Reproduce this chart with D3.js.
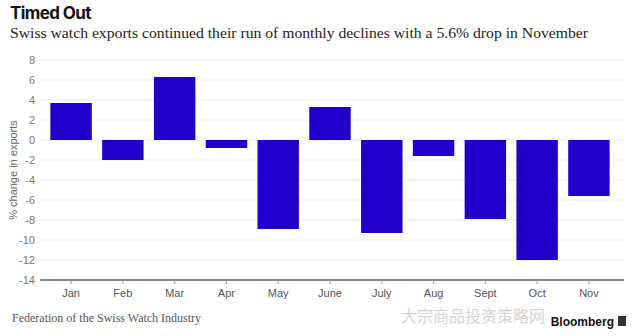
<!DOCTYPE html>
<html>
<head>
<meta charset="utf-8">
<script src="https://cdnjs.cloudflare.com/ajax/libs/d3/7.8.5/d3.min.js"></script>
<style>
  body { margin: 0; background: #fff; }
  svg { display: block; }
</style>
</head>
<body>
<div id="chart"></div>
<script>
// monthly % change in Swiss watch exports
const months = ["Jan", "Feb", "Mar", "Apr", "May", "June", "July", "Aug", "Sept", "Oct", "Nov"];
const changes = [3.7, -2.0, 6.3, -0.8, -8.9, 3.3, -9.3, -1.6, -7.9, -12.0, -5.6];
const yTicks = [8, 6, 4, 2, 0, -2, -4, -6, -8, -10, -12, -14];

const W = 640, H = 336;
const margin = {top: 60, right: 20, bottom: 56, left: 40};

const svg = d3.select("#chart").append("svg")
    .attr("width", W)
    .attr("height", H);

const x = d3.scaleBand()
    .domain(months)
    .range([margin.left, W - margin.right])
    .paddingInner(0.2)
    .paddingOuter(0.2);

const y = d3.scaleLinear()
    .domain([-14, 8])
    .range([H - margin.bottom, margin.top]);

// gridlines
svg.append("g")
    .selectAll("line")
    .data(yTicks.filter(d => d !== -14))
    .join("line")
    .attr("x1", margin.left)
    .attr("x2", W - margin.right + 4)
    .attr("y1", d => y(d))
    .attr("y2", d => y(d))
    .attr("stroke", "#ececec")
    .attr("stroke-width", 1);

// y tick labels
svg.append("g")
    .selectAll("text")
    .data(yTicks)
    .join("text")
    .attr("x", margin.left - 5)
    .attr("y", d => y(d))
    .attr("dy", "0.35em")
    .attr("text-anchor", "end")
    .attr("font-family", "Liberation Sans, Arial, sans-serif")
    .attr("font-size", 11)
    .attr("fill", "#777")
    .text(d => d);

// bars
svg.append("g")
    .selectAll("rect")
    .data(months)
    .join("rect")
    .attr("x", d => x(d))
    .attr("width", x.bandwidth())
    .attr("y", (d, i) => y(Math.max(0, changes[i])))
    .attr("height", (d, i) => Math.abs(y(changes[i]) - y(0)))
    .attr("fill", "#2200cc");

// x axis
const xAxis = svg.append("g")
    .attr("transform", "translate(0," + y(-14) + ")")
    .call(d3.axisBottom(x).tickSize(4).tickSizeOuter(0));
xAxis.select(".domain")
    .attr("d", "M" + margin.left + ",0H" + (W - margin.right + 4))
    .attr("stroke", "#888")
    .attr("stroke-width", 2);
xAxis.selectAll(".tick line").attr("stroke", "#999");
xAxis.selectAll(".tick text")
    .attr("y", 9)
    .attr("font-family", "Liberation Sans, Arial, sans-serif")
    .attr("font-size", 11)
    .attr("fill", "#555");

// y axis label
svg.append("text")
    .attr("transform", "translate(17," + y(-3) + ") rotate(-90)")
    .attr("text-anchor", "middle")
    .attr("font-family", "Liberation Sans, Arial, sans-serif")
    .attr("font-size", 11)
    .attr("fill", "#666")
    .text("% change in exports");

// title and subtitle
svg.append("text")
    .attr("x", 10)
    .attr("y", 19)
    .attr("font-family", "Inter, Roboto, sans-serif")
    .attr("font-weight", "bold")
    .attr("font-size", 17)
    .attr("letter-spacing", "-0.6")
    .attr("fill", "#111")
    .text("Timed Out");

svg.append("text")
    .attr("x", 10)
    .attr("y", 38)
    .attr("font-family", "Liberation Serif, serif")
    .attr("font-size", 15)
    .attr("textLength", 578)
    .attr("lengthAdjust", "spacingAndGlyphs")
    .attr("fill", "#222")
    .text("Swiss watch exports continued their run of monthly declines with a 5.6% drop in November");

// watermark
svg.append("text")
    .attr("x", 545)
    .attr("y", 322)
    .attr("text-anchor", "end")
    .attr("font-family", "Noto Sans CJK SC, sans-serif")
    .attr("font-size", 16)
    .attr("fill", "#d4d4d4")
    .text("大宗商品投资策略网");

// source
svg.append("text")
    .attr("x", 12)
    .attr("y", 322)
    .attr("font-family", "Liberation Serif, serif")
    .attr("font-size", 12)
    .attr("fill", "#555")
    .text("Federation of the Swiss Watch Industry");

svg.append("text")
    .attr("x", 614)
    .attr("y", 326)
    .attr("text-anchor", "end")
    .attr("font-family", "Liberation Sans, Arial, sans-serif")
    .attr("font-weight", "bold")
    .attr("font-size", 12)
    .attr("fill", "#111")
    .text("Bloomberg");

svg.append("rect")
    .attr("x", 618)
    .attr("y", 316)
    .attr("width", 8)
    .attr("height", 10)
    .attr("fill", "#333");
</script>
</body>
</html>
